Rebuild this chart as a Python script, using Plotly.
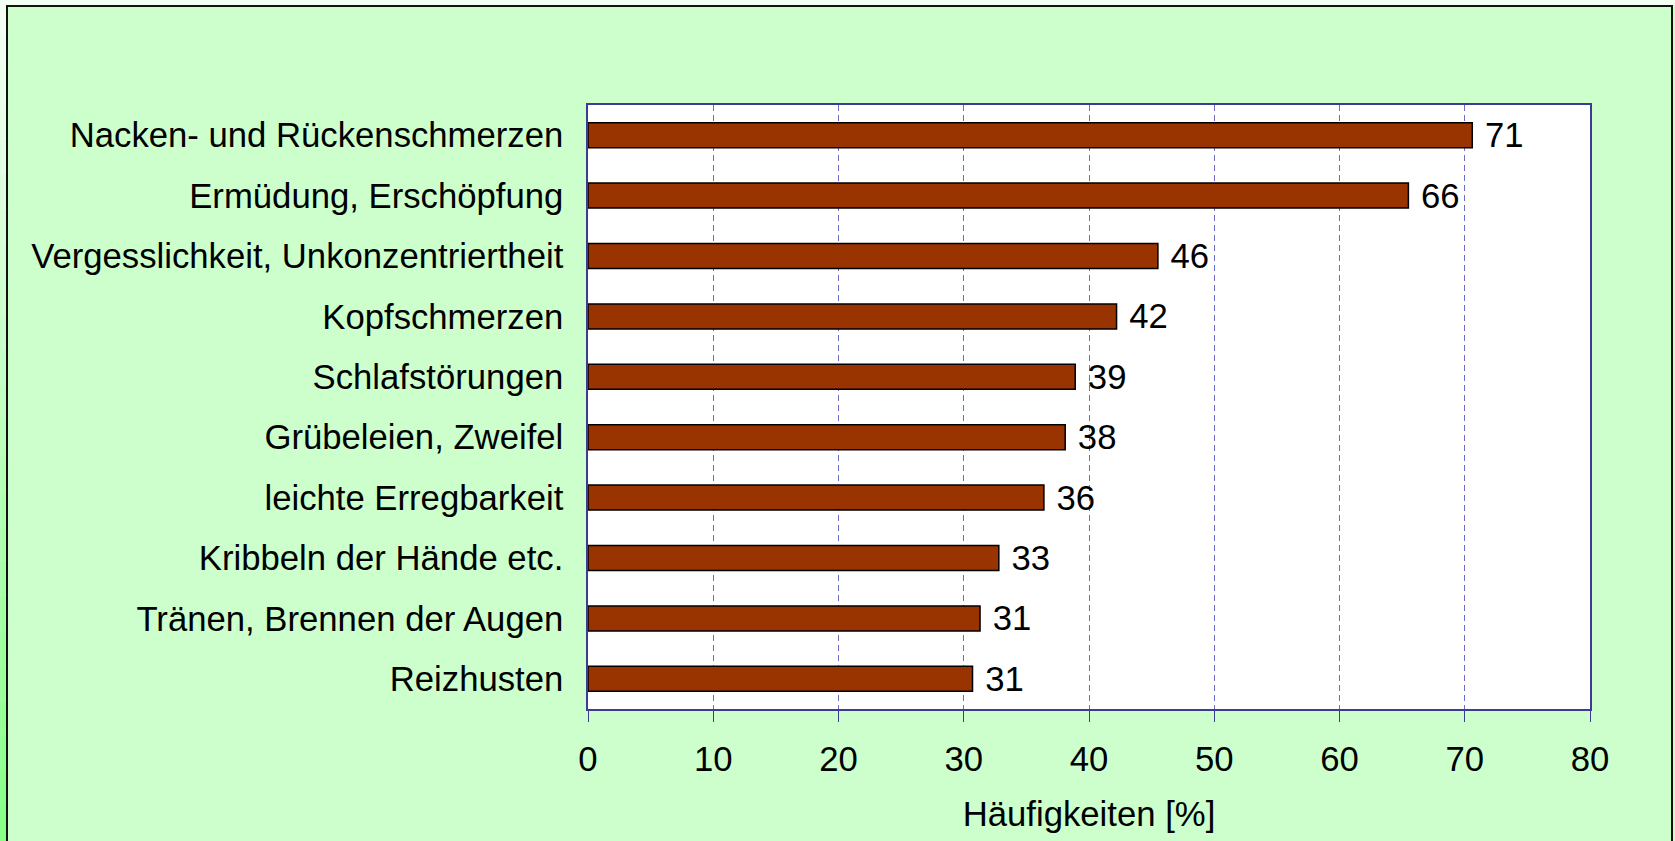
import plotly.graph_objects as go

categories = ["Nacken- und Rückenschmerzen", "Ermüdung, Erschöpfung",
              "Vergesslichkeit, Unkonzentriertheit", "Kopfschmerzen",
              "Schlafstörungen", "Grübeleien, Zweifel", "leichte Erregbarkeit",
              "Kribbeln der Hände etc.", "Tränen, Brennen der Augen", "Reizhusten"]
values = [70.6, 65.5, 45.5, 42.2, 38.9, 38.1, 36.4, 32.8, 31.3, 30.7]
value_labels = ["71", "66", "46", "42", "39", "38", "36", "33", "31", "31"]
x_ticks = [0, 10, 20, 30, 40, 50, 60, 70, 80]
x_title = "Häufigkeiten [%]"

W, H = 1675, 841
ML, MR, MT, MB = 588, 85, 105, 132
PW, PH = W - ML - MR, H - MT - MB

def px(x):
    return (x - ML) / PW

def py(y):
    return 1 - (y - MT) / PH

FONT = "Liberation Sans, Arial, sans-serif"
FS = 34.7
AXC = "#3C3C96"

fig = go.Figure(go.Bar(
    y=categories, x=values, orientation="h",
    marker=dict(color="#993300", line=dict(color="#000000", width=1.5)),
    text=["\u00a0" + t for t in value_labels], textposition="outside",
    constraintext="none", cliponaxis=False,
    textfont=dict(family=FONT, size=FS, color="#000000"),
    hoverinfo="x+y",
))

shapes = []
# left gradient strip
n = 24
c0 = (244, 255, 244)
c1 = (136, 255, 136)
for i in range(n):
    t = i / (n - 1)
    col = "rgb(%d,%d,%d)" % tuple(round(a + (b - a) * t) for a, b in zip(c0, c1))
    shapes.append(dict(type="rect", xref="paper", yref="paper",
                       x0=px(0), x1=px(6), y0=py(H * (i + 1) / n), y1=py(H * i / n),
                       fillcolor=col, line=dict(width=0), layer="below"))
# top strip
shapes.append(dict(type="rect", xref="paper", yref="paper",
                   x0=px(6), x1=px(W), y0=py(5), y1=py(0),
                   fillcolor="#F2FFF2", line=dict(width=0), layer="below"))
# outer frame
shapes.append(dict(type="rect", xref="paper", yref="paper",
                   x0=px(7), x1=px(1672), y0=py(H + 5), y1=py(6),
                   fillcolor="rgba(0,0,0,0)", line=dict(color="#111111", width=2),
                   layer="below"))

fig.update_layout(
    width=W, height=H,
    margin=dict(l=ML, r=MR, t=MT, b=MB, autoexpand=False),
    paper_bgcolor="#CCFFCC", plot_bgcolor="#FFFFFF",
    bargap=0.586, showlegend=False,
    font=dict(family=FONT, size=FS, color="#000000"),
    shapes=shapes,
    xaxis=dict(range=[0, 80], tickvals=x_ticks, ticks="outside", ticklen=11,
               tickcolor=AXC, tickwidth=1.3, showline=True, linecolor=AXC,
               linewidth=1.5, mirror=True, showgrid=True, gridcolor="#6C6CC8",
               gridwidth=1.3, griddash="6px,4px", zeroline=False,
               tickfont=dict(family=FONT, size=FS, color="#000000"),
               ticklabelstandoff=8,
               title=dict(text=x_title, standoff=24,
                          font=dict(family=FONT, size=FS, color="#000000"))),
    yaxis=dict(autorange="reversed", ticks="", showline=True, linecolor=AXC,
               linewidth=1.5, mirror=True, showgrid=False, zeroline=False,
               ticklabelstandoff=16,
               tickfont=dict(family=FONT, size=FS, color="#000000")),
)

fig.write_html(
    "out.html",
    config={"displayModeBar": False},
    post_script="document.body.style.margin='0';document.body.style.padding='0';"
                "document.body.style.overflow='hidden';",
)
